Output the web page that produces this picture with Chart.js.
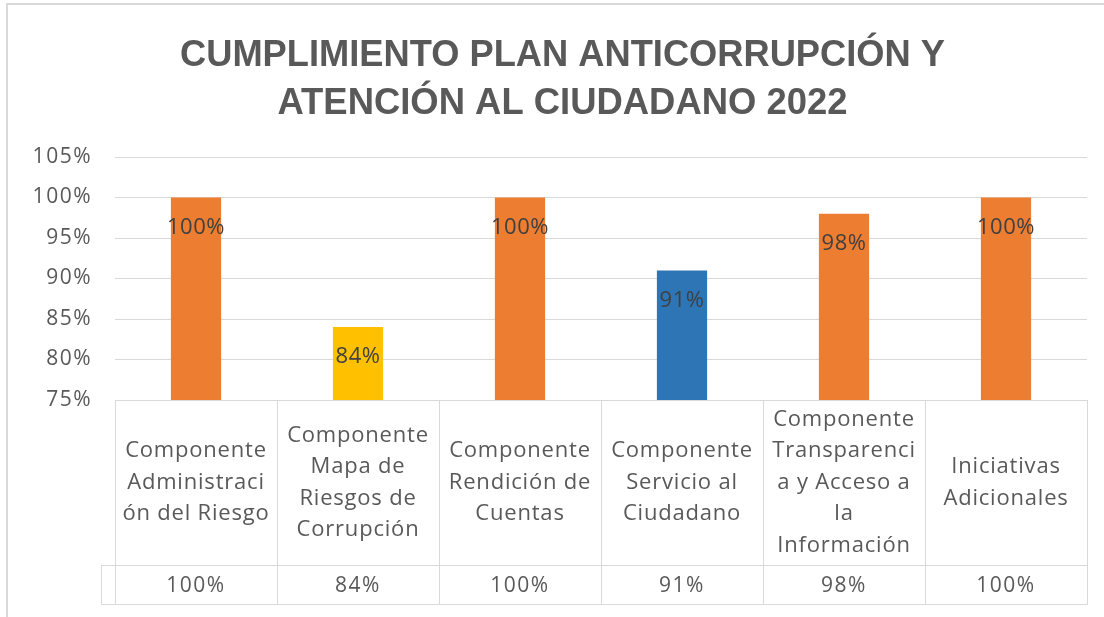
<!DOCTYPE html>
<html>
<head>
<meta charset="utf-8">
<script src="https://cdn.jsdelivr.net/npm/chart.js@4.4.0/dist/chart.umd.min.js"></script>
<style>
  html, body { margin: 0; padding: 0; background: #fff; }
  #marco { position: relative; width: 1104px; height: 617px; overflow: hidden; }
  #borde { position: absolute; left: 6px; top: 3px; right: -10px; bottom: -10px;
           border-left: 2px solid #d9d9d9; border-top: 2px solid #d9d9d9; pointer-events: none; }
  canvas { position: absolute; left: 0; top: 0; }
</style>
</head>
<body>
<div id="marco">
  <canvas id="grafico" width="1104" height="617"></canvas>
  <div id="borde"></div>
</div>
<script>
// --- Datos ---
const titulo = ['CUMPLIMIENTO PLAN ANTICORRUPCIÓN Y', 'ATENCIÓN AL CIUDADANO 2022'];
const categorias = [
    ['Componente', 'Administraci', 'ón del Riesgo'],
    ['Componente', 'Mapa de', 'Riesgos de', 'Corrupción'],
    ['Componente', 'Rendición de', 'Cuentas'],
    ['Componente', 'Servicio al', 'Ciudadano'],
    ['Componente', 'Transparenci', 'a y Acceso a', 'la', 'Información'],
    ['Iniciativas', 'Adicionales']
];
const cumplimiento = [1.00, 0.84, 1.00, 0.91, 0.98, 1.00];
const coloresBarras = ['#ED7D31', '#FFC000', '#ED7D31', '#2E75B6', '#ED7D31', '#ED7D31'];
const ejeMin = 0.75, ejeMax = 1.05, ejePaso = 0.05;

const GRIS_TEXTO = '#595959';
const GRIS_LINEA = '#d9d9d9';
const FUENTE = "'Open Sans', 'Liberation Sans', Arial, sans-serif";
const FUENTE_TITULO = "'Liberation Sans', Arial, sans-serif";

const pct = v => Math.round(v * 100) + '%';

// Titulo en dos lineas, comprimido como Calibri
const tituloPlugin = {
    id: 'tituloExcel',
    afterDraw(chart) {
        const ctx = chart.ctx;
        const anchos = [765, 570];
        const bases = [66, 114];
        ctx.save();
        ctx.font = 'bold 37px ' + FUENTE_TITULO;
        ctx.fillStyle = GRIS_TEXTO;
        ctx.textAlign = 'left';
        ctx.textBaseline = 'alphabetic';
        ctx.letterSpacing = '0px';
        titulo.forEach((linea, i) => {
            const w = ctx.measureText(linea).width;
            ctx.save();
            ctx.translate(562.5 - anchos[i] / 2, bases[i]);
            ctx.scale(anchos[i] / w, 1);
            ctx.fillText(linea, 0, 0);
            ctx.restore();
        });
        ctx.restore();
    }
};

// Espaciado de letras para las etiquetas del eje
const espaciado = {
    id: 'espaciado',
    beforeDraw(chart) { chart.ctx.letterSpacing = '1.5px'; },
    afterDraw(chart) { chart.ctx.letterSpacing = '0px'; }
};

// Etiquetas de datos dentro de las barras
const etiquetasBarras = {
    id: 'etiquetasBarras',
    afterDatasetsDraw(chart) {
        const ctx = chart.ctx;
        const meta = chart.getDatasetMeta(0);
        ctx.save();
        ctx.font = '22px ' + FUENTE;
        ctx.letterSpacing = '0.5px';
        ctx.fillStyle = '#404040';
        ctx.textAlign = 'center';
        ctx.textBaseline = 'middle';
        meta.data.forEach((barra, i) => {
            ctx.fillText(pct(chart.data.datasets[0].data[i]), barra.x, barra.y + 30);
        });
        ctx.restore();
    }
};

// Tabla de datos bajo el grafico
const tablaDatos = {
    id: 'tablaDatos',
    afterDraw(chart) {
        const { ctx, chartArea, scales: { x } } = chart;
        const n = chart.data.labels.length;
        const paso = x.width / n;
        const arriba = Math.round(chartArea.bottom);
        const filaValores = arriba + 165;
        const fondo = arriba + 204;
        const izqLeyenda = chartArea.left - 14;

        ctx.save();
        ctx.strokeStyle = GRIS_LINEA;
        ctx.lineWidth = 1;
        ctx.beginPath();
        ctx.moveTo(chartArea.left, arriba + 0.5); ctx.lineTo(chartArea.right, arriba + 0.5);
        ctx.moveTo(izqLeyenda, filaValores + 0.5); ctx.lineTo(chartArea.right, filaValores + 0.5);
        ctx.moveTo(izqLeyenda, fondo + 0.5); ctx.lineTo(chartArea.right, fondo + 0.5);
        for (let i = 0; i <= n; i++) {
            const px = Math.round(x.getPixelForValue(i) - paso / 2) + 0.5;
            ctx.moveTo(px, arriba); ctx.lineTo(px, fondo + 1);
        }
        ctx.moveTo(izqLeyenda + 0.5, filaValores); ctx.lineTo(izqLeyenda + 0.5, fondo + 1);
        ctx.stroke();

        ctx.fillStyle = GRIS_TEXTO;
        ctx.textAlign = 'center';
        ctx.textBaseline = 'middle';
        const centroCat = (arriba + filaValores) / 2;
        const interlinea = 31.5;
        chart.data.labels.forEach((lineas, i) => {
            const cx = x.getPixelForValue(i);
            ctx.font = '22px ' + FUENTE;
            ctx.letterSpacing = '0.8px';
            const y0 = centroCat - (lineas.length - 1) * interlinea / 2;
            lineas.forEach((t, k) => ctx.fillText(t, cx, y0 + k * interlinea));
            ctx.font = '21px ' + FUENTE;
            ctx.letterSpacing = '1.5px';
            ctx.fillText(pct(chart.data.datasets[0].data[i]), cx, (filaValores + fondo) / 2 + 2);
        });
        ctx.restore();
    }
};

new Chart(document.getElementById('grafico').getContext('2d'), {
    type: 'bar',
    data: {
        labels: categorias,
        datasets: [{
            data: cumplimiento,
            backgroundColor: coloresBarras,
            borderWidth: 0,
            barPercentage: 0.31,
            categoryPercentage: 1
        }]
    },
    options: {
        responsive: false, animation: false,
        layout: { padding: { top: 157, bottom: 217, left: 0, right: 17 } },
        plugins: { legend: { display: false }, tooltip: { enabled: false }, title: { display: false } },
        scales: {
            x: { display: false },
            y: {
                min: ejeMin, max: ejeMax,
                afterFit(s) { s.width = 115; },
                border: { display: false },
                grid: { color: GRIS_LINEA, lineWidth: 1, drawTicks: false },
                ticks: {
                    stepSize: ejePaso, padding: 23, color: GRIS_TEXTO,
                    font: { family: FUENTE, size: 21 },
                    callback: v => pct(v)
                }
            }
        }
    },
    plugins: [espaciado, etiquetasBarras, tablaDatos, tituloPlugin]
});
</script>
</body>
</html>
